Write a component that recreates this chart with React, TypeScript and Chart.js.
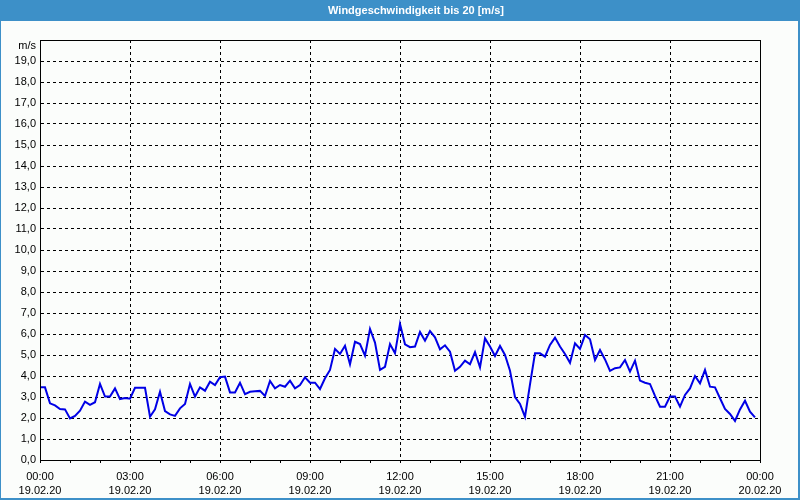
import React, { useEffect, useRef } from "react";
import { Chart, registerables } from "chart.js";

Chart.register(...registerables);

const TITLE = "Windgeschwindigkeit bis 20 [m/s]";
const UNIT = "m/s";
const STEP_MINUTES = 10;

// wind speed in m/s, one value every 10 minutes from 19.02.20 00:00
const windSpeed: number[] = [
  3.46, 3.46, 2.7, 2.6, 2.43, 2.41, 1.98, 2.1, 2.35, 2.78, 2.63, 2.75,
  3.62, 3.02, 3.02, 3.41, 2.9, 2.95, 2.92, 3.44, 3.44, 3.44, 2.06, 2.41,
  3.25, 2.33, 2.17, 2.1, 2.46, 2.67, 3.62, 3.02, 3.46, 3.3, 3.73, 3.57,
  3.94, 3.97, 3.22, 3.22, 3.68, 3.14, 3.25, 3.27, 3.29, 3.05, 3.76, 3.41,
  3.57, 3.49, 3.78, 3.41, 3.57, 3.94, 3.68, 3.68, 3.38, 3.89, 4.29, 5.29,
  5.05, 5.44, 4.56, 5.63, 5.52, 4.97, 6.24, 5.59, 4.29, 4.44, 5.52, 5.08,
  6.48, 5.51, 5.37, 5.4, 6.1, 5.68, 6.14, 5.84, 5.27, 5.46, 5.16, 4.25,
  4.44, 4.73, 4.56, 5.14, 4.41, 5.79, 5.4, 4.95, 5.43, 5.0, 4.25, 3.0,
  2.67, 2.05, 3.6, 5.08, 5.08, 4.92, 5.48, 5.83, 5.4, 5.05, 4.63, 5.56,
  5.29, 5.95, 5.75, 4.76, 5.24, 4.79, 4.24, 4.37, 4.41, 4.76, 4.21, 4.73,
  3.78, 3.68, 3.62, 3.05, 2.54, 2.54, 3.02, 3.02, 2.54, 3.1, 3.41, 4.0,
  3.65, 4.29, 3.49, 3.46, 2.94, 2.43, 2.19, 1.86, 2.41, 2.82, 2.3, 2.03,
];

const tickTimes: string[] = ["00:00", "03:00", "06:00", "09:00", "12:00", "15:00", "18:00", "21:00", "00:00"];
const tickDates: string[] = ["19.02.20", "19.02.20", "19.02.20", "19.02.20", "19.02.20", "19.02.20", "19.02.20", "19.02.20", "20.02.20"];

const X_MAX = 1440;
const LABEL_EVERY = 180;
const Y_MAX = 20;

const FONT = "'Liberation Sans', Arial, sans-serif";

const framePlugin = {
  id: "frame",
  beforeDraw(chart: any) {
    const { ctx, width, height } = chart;
    ctx.save();
    ctx.fillStyle = "#fbfdfb";
    ctx.fillRect(0, 0, width, height);
    ctx.fillStyle = "#3d90c8";
    ctx.fillRect(0, 0, width, 21);
    ctx.fillRect(0, 0, 1, height);
    ctx.fillRect(width - 2, 0, 2, height);
    ctx.fillRect(0, height - 2, width, 2);
    ctx.fillStyle = "#ffffff";
    ctx.font = `bold 11px ${FONT}`;
    ctx.textAlign = "center";
    ctx.textBaseline = "middle";
    ctx.fillText(TITLE, 416, 11);
    ctx.restore();
  },
  afterDraw(chart: any) {
    const { ctx, chartArea } = chart;
    ctx.save();
    ctx.strokeStyle = "#000000";
    ctx.lineWidth = 1;
    ctx.setLineDash([]);
    ctx.strokeRect(
      Math.round(chartArea.left) + 0.5,
      Math.round(chartArea.top) + 0.5,
      Math.round(chartArea.right - chartArea.left),
      Math.round(chartArea.bottom - chartArea.top)
    );
    ctx.fillStyle = "#000000";
    ctx.font = `11px ${FONT}`;
    ctx.textAlign = "right";
    ctx.textBaseline = "middle";
    ctx.fillText(UNIT, chartArea.left - 4, chartArea.top + 6);
    ctx.restore();
  },
};

export default function App() {
  const ref = useRef<HTMLCanvasElement | null>(null);

  useEffect(() => {
    if (!ref.current) return;
    const points = windSpeed.map((v, i) => ({ x: i * STEP_MINUTES, y: v }));
    const chart = new Chart(ref.current, {
      type: "line",
      data: {
        datasets: [
          {
            data: points,
            borderColor: "#0000e6",
            borderWidth: 2,
            pointRadius: 0,
            tension: 0,
            fill: false,
          },
        ],
      },
      options: {
        animation: false,
        responsive: false,
        maintainAspectRatio: false,
        layout: { padding: { left: 0, top: 40, right: 40, bottom: 0 } },
        plugins: {
          legend: { display: false },
          tooltip: { enabled: false },
          title: { display: false },
        },
        scales: {
          x: {
            type: "linear",
            min: 0,
            max: X_MAX,
            afterFit(scale: any) {
              scale.height = 40;
            },
            afterBuildTicks(scale: any) {
              const t = [];
              for (let v = 0; v <= X_MAX; v += 60) t.push({ value: v });
              scale.ticks = t;
            },
            ticks: {
              autoSkip: false,
              maxRotation: 0,
              minRotation: 0,
              color: "#000000",
              padding: 6,
              font: { family: FONT, size: 11, lineHeight: 1.36 },
              callback(value: any) {
                const v = Number(value);
                if (v % LABEL_EVERY !== 0) return "";
                const idx = v / LABEL_EVERY;
                return [tickTimes[idx], tickDates[idx]];
              },
            },
            grid: {
              color: (ctx: any) =>
                ctx.tick && ctx.tick.value % LABEL_EVERY === 0 && ctx.tick.value > 0 && ctx.tick.value < X_MAX
                  ? "#000000"
                  : "rgba(0,0,0,0)",
              tickColor: "#000000",
              drawTicks: true,
              tickLength: 3,
              lineWidth: 1,
            },
            border: { display: true, color: "#000000", width: 1, dash: [3, 3] },
          },
          y: {
            type: "linear",
            min: 0,
            max: Y_MAX,
            afterFit(scale: any) {
              scale.width = 40;
            },
            ticks: {
              stepSize: 1,
              autoSkip: false,
              color: "#000000",
              padding: 4,
              font: { family: FONT, size: 11 },
              callback(value: any) {
                const v = Number(value);
                if (v >= Y_MAX) return "";
                return v.toFixed(1).replace(".", ",");
              },
            },
            grid: {
              color: (ctx: any) =>
                ctx.tick && ctx.tick.value > 0 && ctx.tick.value < Y_MAX ? "#000000" : "rgba(0,0,0,0)",
              drawTicks: false,
              lineWidth: 1,
            },
            border: { display: true, color: "#000000", width: 1, dash: [3, 3] },
          },
        },
      },
      plugins: [framePlugin],
    });
    return () => chart.destroy();
  }, []);

  return (
    <div style={{ position: "absolute", left: 0, top: 0, width: 800, height: 500 }}>
      <canvas ref={ref} width={800} height={500} style={{ display: "block" }} />
    </div>
  );
}
